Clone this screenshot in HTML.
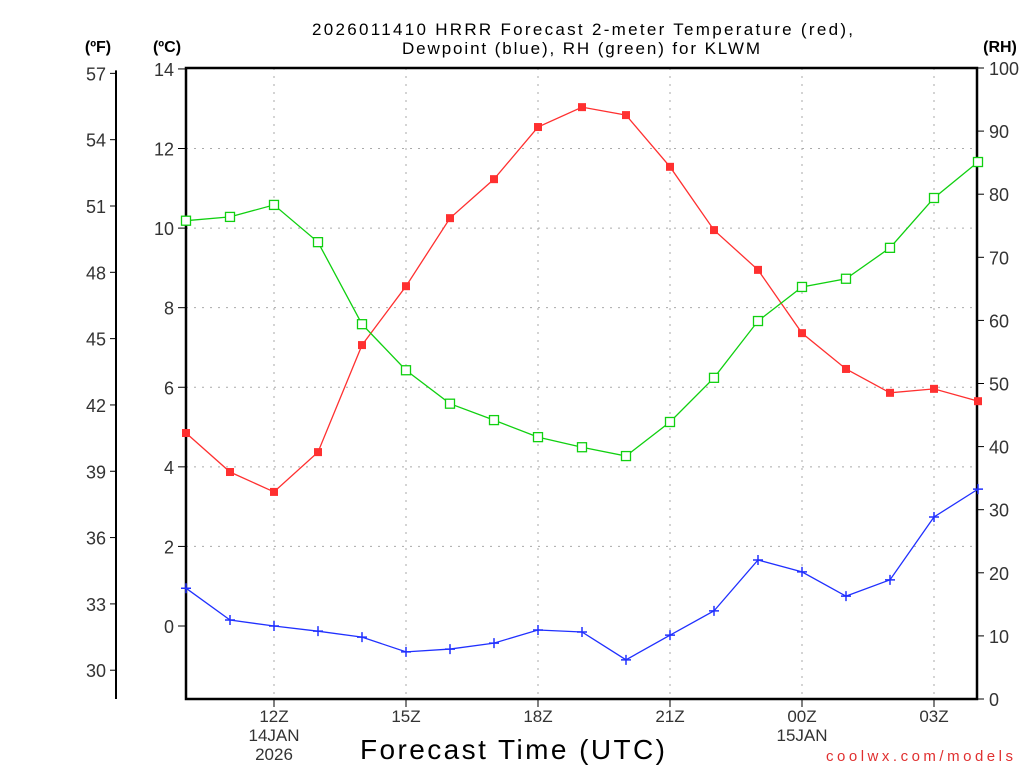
<!DOCTYPE html>
<html><head><meta charset="utf-8"><style>
html,body{margin:0;padding:0;background:#fff;}
svg{display:block;font-family:"Liberation Sans","DejaVu Sans",sans-serif;}
</style></head><body>
<svg id="chart" width="1024" height="768" viewBox="0 0 1024 768" xmlns="http://www.w3.org/2000/svg">
<rect width="1024" height="768" fill="#fff"/>
<text x="312" y="35" font-size="17" textLength="541" lengthAdjust="spacing" fill="#000">2026011410 HRRR Forecast 2-meter Temperature (red),</text>
<text x="402" y="54" font-size="17" textLength="358" lengthAdjust="spacing" fill="#000">Dewpoint (blue), RH (green) for KLWM</text>
<text x="98" y="52" font-size="16" font-weight="bold" text-anchor="middle">(ºF)</text>
<text x="167" y="52" font-size="16" font-weight="bold" text-anchor="middle">(ºC)</text>
<text x="1000" y="52" font-size="16" font-weight="bold" text-anchor="middle">(RH)</text>
<text x="360" y="759" font-size="28" textLength="305" lengthAdjust="spacing">Forecast Time (UTC)</text>
<text x="826" y="761" font-size="15" fill="#e03030" textLength="187" lengthAdjust="spacing">coolwx.com/models</text>
<g id="grid"></g><g id="axes"></g><g id="series"></g>
</svg>
<script>
const hours = ["10","11","12","13","14","15","16","17","18","19","20","21","22","23","00","01","02","03","04"];
const tempC = [4.85,3.87,3.37,4.37,7.06,8.54,10.25,11.23,12.54,13.04,12.84,11.54,9.95,8.95,7.36,6.46,5.86,5.96,5.65];
const dewC = [0.95,0.15,0.0,-0.13,-0.28,-0.65,-0.58,-0.43,-0.1,-0.15,-0.85,-0.23,0.38,1.66,1.36,0.75,1.16,2.74,3.44];
const rh = [75.8,76.4,78.3,72.4,59.4,52.1,46.8,44.2,41.5,39.9,38.5,43.9,50.9,59.9,65.3,66.6,71.5,79.4,85.1];
const cTicks = [0,2,4,6,8,10,12,14];
const fTicks = [30,33,36,39,42,45,48,51,54,57];
const rhTicks = [0,10,20,30,40,50,60,70,80,90,100];
const xLabels = [{i:2,t:"12Z",d:["14JAN","2026"]},{i:5,t:"15Z"},{i:8,t:"18Z"},{i:11,t:"21Z"},{i:14,t:"00Z",d:["15JAN"]},{i:17,t:"03Z"}];

const NS="http://www.w3.org/2000/svg";
const L=186,R=977,T=68,B=699;
const xs=i=>L+44*i;
const yC=c=>626-c*39.79;
const yF=f=>yC((f-32)*5/9);
const yRH=r=>B-r*(B-T)/100;
function mk(tag,attrs,parent){const e=document.createElementNS(NS,tag);for(const k in attrs)e.setAttribute(k,attrs[k]);parent.appendChild(e);return e;}
const grid=document.getElementById('grid'),axes=document.getElementById('axes'),ser=document.getElementById('series');

cTicks.forEach(c=>{const y=yC(c);
 if(c>0&&c<14){const g=mk('line',{x1:L,x2:R,y1:y,y2:y,stroke:'#aaa','stroke-dasharray':'2,6'},grid);
 
 }
 const t=mk('line',{x1:L-8,x2:L,y1:y,y2:y,stroke:'#000'},axes);
 
 
 const tx=mk('text',{x:L-12,y:y+7,'font-size':18,'text-anchor':'end',fill:'#333'},axes);tx.textContent=c;
 
 
});
xLabels.forEach(o=>{const x=xs(o.i);
 const g=mk('line',{x1:x,x2:x,y1:T,y2:B,stroke:'#aaa','stroke-dasharray':'2,6'},grid);
 
 
 const t=mk('line',{x1:x,x2:x,y1:B,y2:B+8,stroke:'#000'},axes);
 
 
 const tx=mk('text',{x:x,y:B+23,'font-size':17,'text-anchor':'middle',fill:'#333'},axes);tx.textContent=o.t+"";
 
 
 (o.d||[]).forEach((d,k)=>{const dt=mk('text',{x:x,y:B+42+k*19,'font-size':17,'text-anchor':'middle',fill:'#333'},axes);dt.textContent=d;
 
 });
});
const fl=mk('line',{x1:116,x2:116,y1:yF(57)-3,y2:B,stroke:'#000','stroke-width':2},axes);


fTicks.forEach(f=>{const y=yF(f);
 const t=mk('line',{x1:110,x2:116,y1:y,y2:y,stroke:'#000'},axes);
 
 
 const tx=mk('text',{x:106,y:y+7,'font-size':18,'text-anchor':'end',fill:'#333'},axes);tx.textContent=f;
 
 
});
rhTicks.forEach(r=>{const y=yRH(r);
 const t=mk('line',{x1:R,x2:R+7,y1:y,y2:y,stroke:'#000'},axes);
 
 
 const tx=mk('text',{x:R+12,y:y+7,'font-size':18,'text-anchor':'start',fill:'#333'},axes);tx.textContent=r;
 
 
});
const fr=mk('rect',{x:L,y:T,width:R-L,height:B-T,fill:'none',stroke:'#000','stroke-width':2.5},axes);



function line(vals,yf,col,name){
 const p=mk('polyline',{points:vals.map((v,i)=>xs(i)+','+yf(v)).join(' '),fill:'none',stroke:col,'stroke-width':1.3},ser);
 
 
}
line(tempC,yC,'#ff3030','temperature');
line(dewC,yC,'#2030ff','dewpoint');
line(rh,yRH,'#10d010','rh');
tempC.forEach((v,i)=>{const m=mk('rect',{x:xs(i)-4,y:yC(v)-4,width:8,height:8,fill:'#ff3030'},ser);
 
 });
rh.forEach((v,i)=>{const m=mk('rect',{x:xs(i)-4.5,y:yRH(v)-4.5,width:9,height:9,fill:'#fff',stroke:'#10d010','stroke-width':1.3},ser);
 
 });
dewC.forEach((v,i)=>{const x=xs(i),y=yC(v);
 const m=mk('path',{d:`M${x-5},${y}H${x+5}M${x},${y-5}V${y+5}`,stroke:'#2030ff','stroke-width':1.5},ser);
 
 });
</script>
</body></html>
